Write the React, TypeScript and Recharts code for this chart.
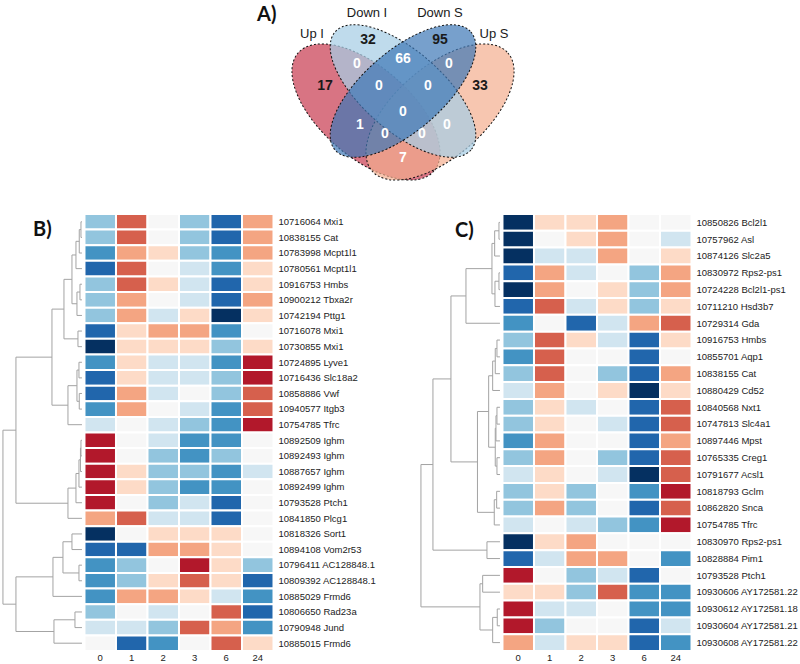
import React from "react";
import { ScatterChart, Scatter, XAxis, YAxis, ReferenceArea, ReferenceLine } from "recharts";

// time points (h) shown under both heatmaps
const timePoints = ["0", "1", "2", "3", "6", "24"];

// ---- panel A: venn ----
const vennSets = ["Up I", "Down I", "Down S", "Up S"];
// region -> count (A=Up I, B=Down I, C=Down S, D=Up S)
const vennRegions = ["A", "B", "C", "D", "AB", "BC", "CD", "ABC", "BCD", "ABCD", "AC", "BD", "ACD", "ABD", "AD"];
const vennCounts = [17, 32, 95, 33, 0, 66, 0, 0, 0, 0, 1, 0, 0, 0, 7];

// ---- panel B ----
const genesB = [
  "10716064 Mxi1", "10838155 Cat", "10783998 Mcpt1l1", "10780561 Mcpt1l1", "10916753 Hmbs",
  "10900212 Tbxa2r", "10742194 Pttg1", "10716078 Mxi1", "10730855 Mxi1", "10724895 Lyve1",
  "10716436 Slc18a2", "10858886 Vwf", "10940577 Itgb3", "10754785 Tfrc", "10892509 Ighm",
  "10892493 Ighm", "10887657 Ighm", "10892499 Ighm", "10793528 Ptch1", "10841850 Plcg1",
  "10818326 Sort1", "10894108 Vom2r53", "10796411 AC128848.1", "10809392 AC128848.1",
  "10885029 Frmd6", "10806650 Rad23a", "10790948 Jund", "10885015 Frmd6",
];
const valuesB = [
  [-2, 3, 0, -2, -4, 2], [-2, 3, 0, -2, -4, 2], [-3, 2, 1, -2, -3, 2], [-4, 3, 0, -1, -3, 1],
  [-2, 3, 1, -1, -4, 1], [-2, 2, 0, -1, -4, 2], [-2, 2, -1, 1, -5, 1], [-4, 1, 2, 2, -3, 0],
  [-5, 1, 1, 1, -2, 1], [-3, 1, -1, -1, -3, 4], [-4, 1, -1, -1, -2, 4], [-4, 2, -1, 0, -2, 3],
  [-3, 2, 0, -1, -3, 3], [-1, 0, -1, -2, -3, 4], [4, 0, -1, -3, -3, 0], [4, 0, -2, -3, -2, 0],
  [4, 1, -2, -2, -3, -1], [4, 1, -2, -3, -3, 0], [4, 0, -2, -1, -4, 0], [2, 3, -1, -1, -4, 0],
  [-5, 0, 1, 1, 1, 0], [-4, -4, 2, 2, 1, 0], [-3, -2, 0, 4, 1, -2], [-3, -2, 1, 3, 1, -4],
  [-3, 2, 2, 1, -1, -3], [-2, 0, -1, 0, 3, -4], [-1, -1, -2, 3, 2, -3], [0, -4, -3, 0, 3, 1],
];
// [left, right, height]; numbers are row indices
const treeB = [
  [
    [
      [
        [[[[0, 1, 0.1], 2, 0.27], 3, 0.6], [[4, 5, 0.2], 6, 0.5], 1.0],
        [7, 8, 0.4],
        1.8,
      ],
      [[[9, 10, 0.3], [11, 12, 0.27], 0.5], 13, 1.4],
      3.0,
    ],
    [[[[[14, 15, 0.1], 16, 0.15], 17, 0.3], 18, 0.6], 19, 1.4],
    6.6,
  ],
  [
    [[[20, 21, 1.0], [22, 23, 0.3], 1.9], 24, 2.9],
    [[25, 26, 0.7], 27, 2.8],
    6.6,
  ],
  7.9,
];

// ---- panel C ----
const genesC = [
  "10850826 Bcl2l1", "10757962 Asl", "10874126 Slc2a5", "10830972 Rps2-ps1", "10724228 Bcl2l1-ps1",
  "10711210 Hsd3b7", "10729314 Gda", "10916753 Hmbs", "10855701 Aqp1", "10838155 Cat",
  "10880429 Cd52", "10840568 Nxt1", "10747813 Slc4a1", "10897446 Mpst", "10765335 Creg1",
  "10791677 Acsl1", "10818793 Gclm", "10862820 Snca", "10754785 Tfrc", "10830970 Rps2-ps1",
  "10828884 Pim1", "10793528 Ptch1", "10930606 AY172581.22", "10930612 AY172581.18",
  "10930604 AY172581.21", "10930608 AY172581.22",
];
const valuesC = [
  [-5, 1, 1, 2, 0, 0], [-5, 0, 1, 2, 0, -1], [-5, -1, -1, 2, 0, 1], [-4, 2, -1, 0, -2, 2],
  [-5, 2, 0, 1, -2, 2], [-4, 3, -1, 1, -2, 1], [-3, 0, -4, -1, 2, 3], [-2, 3, 1, -1, -4, 1],
  [-3, 3, 0, 0, -4, 0], [-2, 3, 0, -2, -4, 2], [-1, 2, 0, 1, -5, 1], [-2, 1, -1, 0, -4, 3],
  [-2, 1, 0, -1, -4, 3], [-3, 2, 0, 0, -4, 2], [-2, 2, 0, -2, -4, 3], [-1, 1, 0, -1, -5, 3],
  [-2, 1, -2, 0, -3, 4], [-2, 2, -2, 0, -4, 3], [-1, 0, -1, -2, -3, 4], [-5, 1, 2, 0, 0, 0],
  [-4, -1, 2, 2, 0, -3], [4, 0, -2, -1, -4, 0], [1, 1, -2, 3, -3, -3], [4, -1, -1, 0, -3, -3],
  [4, -2, 0, 0, -4, -1], [2, -1, 1, 1, -4, -3],
];
const treeC = [
  [
    [
      [[[[0, 1, 0.1], 2, 0.53], [[3, 4, 0.1], 5, 0.5], 0.8], 6, 3.4],
      [
        [[[[7, 8, 0.3], 9, 0.47], 10, 0.73], [[[11, 12, 0.3], 13, 0.4], [14, 15, 0.3], 0.47], 1.13],
        [[16, 17, 0.33], 18, 0.57],
        2.25,
      ],
      4.9,
    ],
    [19, 20, 1.3],
    6.7,
  ],
  [[21, 22, 1.73], [[23, 24, 0.27], 25, 0.73], 2.0],
  7.9,
];

// RdBu, -5 .. 5
const palette = [
  "#053061", "#2166ac", "#4393c3", "#92c5de", "#d1e5f0", "#f7f7f7",
  "#fddbc7", "#f4a582", "#d6604d", "#b2182b", "#67001f",
];
const colorOf = (v: number) => palette[v + 5];

const FONT = "'Liberation Sans', Arial, sans-serif";
const GAP = 0.08; // leaf end -> first column
const K = 0.3175; // columns per height unit

type Node = number | any[];

function walk(node: Node, segs: number[][]): { x: number; y: number } {
  if (typeof node === "number") return { x: -GAP, y: node + 0.5 };
  const [l, r, h] = node as [Node, Node, number];
  const a = walk(l, segs);
  const b = walk(r, segs);
  const x = -(GAP + h * K);
  segs.push([x, a.y, x, b.y]);
  segs.push([x, a.y, a.x, a.y]);
  segs.push([x, b.y, b.x, b.y]);
  return { x, y: (a.y + b.y) / 2 };
}

// plain text ticks (no wrapping)
const RowTick = ({ x, y, payload, labels }: any) => (
  <text x={x} y={y} dy="0.35em" textAnchor="start" fontSize={9.5} fill="#222" fontFamily={FONT}>
    {labels[Math.floor(payload.value)]}
  </text>
);
const TimeTick = ({ x, y, payload }: any) => (
  <text x={x} y={y} dy="0.71em" textAnchor="middle" fontSize={9.5} fill="#222" fontFamily={FONT}>
    {timePoints[Math.floor(payload.value)]}
  </text>
);

const Heatmap = ({ genes, values, tree, width, axisWidth }: any) => {
  const n = genes.length;
  const cells: any[] = [];
  values.forEach((row: number[], r: number) =>
    row.forEach((v, c) => cells.push({ x: c + 0.5, y: r + 0.5, row: r, col: c, v }))
  );
  const segs: number[][] = [];
  walk(tree, segs);

  return (
    <ScatterChart width={width} height={464} margin={{ top: 14, right: 0, bottom: 0, left: 0 }}>
      <XAxis
        type="number"
        dataKey="x"
        domain={[-2.65, 6]}
        ticks={timePoints.map((_, i) => i + 0.5)}
        interval={0}
        axisLine={false}
        tickLine={false}
        tickSize={0}
        tickMargin={3}
        height={13}
        tick={<TimeTick />}
      />
      <YAxis
        type="number"
        dataKey="y"
        orientation="right"
        reversed
        domain={[0, n]}
        ticks={genes.map((_: string, i: number) => i + 0.5)}
        interval={0}
        axisLine={false}
        tickLine={false}
        tickSize={3}
        tickMargin={2}
        width={axisWidth}
        tick={<RowTick labels={genes} />}
      />
      {cells.map((c) => (
        <ReferenceArea
          key={`${c.row}-${c.col}`}
          x1={c.col}
          x2={c.col + 1}
          y1={c.row}
          y2={c.row + 1}
          fill={colorOf(c.v)}
          fillOpacity={1}
          stroke="#ffffff"
          strokeWidth={2}
          ifOverflow="visible"
        />
      ))}
      {segs.map((s, i) => (
        <ReferenceLine
          key={i}
          segment={[{ x: s[0], y: s[1] }, { x: s[2], y: s[3] }]}
          stroke="#a3a3a3"
          strokeWidth={1}
          ifOverflow="visible"
        />
      ))}
      <Scatter data={cells} shape={() => <g />} isAnimationActive={false} />
    </ScatterChart>
  );
};

// venn layout (units, y up)
const vennEllipses = [
  { cx: -0.37, cy: -0.12, rx: 0.9, ry: 0.45, angle: -41, fill: "#c8394f", op: 0.7 },
  { cx: 0.37, cy: -0.12, rx: 0.9, ry: 0.45, angle: 41, fill: "#f3ae8e", op: 0.7 },
  { cx: 0, cy: 0.09, rx: 0.9, ry: 0.4, angle: -41, fill: "#a6cde4", op: 0.72 },
  { cx: 0, cy: 0.09, rx: 0.9, ry: 0.4, angle: 41, fill: "#3d78b6", op: 0.7 },
];
const vennSetPos = [[-0.91, 0.67], [-0.36, 0.88], [0.37, 0.88], [0.91, 0.67]];
const vennCountPos = [
  [-0.78, 0.15], [-0.35, 0.61], [0.37, 0.61], [0.77, 0.15], [-0.46, 0.37], [0, 0.42],
  [0.46, 0.37], [-0.24, 0.15], [0.25, 0.15], [0, -0.11], [-0.43, -0.24], [0.44, -0.24],
  [-0.18, -0.33], [0.19, -0.33], [0, -0.57],
];

const Venn = () => {
  const labels = [
    ...vennSets.map((s, i) => ({ x: vennSetPos[i][0], y: vennSetPos[i][1], text: s, kind: "set" })),
    ...vennRegions.map((r, i) => ({
      x: vennCountPos[i][0],
      y: vennCountPos[i][1],
      text: String(vennCounts[i]),
      kind: r.length === 1 ? "only" : "inter",
    })),
  ];
  return (
    <ScatterChart width={260} height={200} margin={{ top: 0, right: 0, bottom: 0, left: 0 }}>
      <XAxis type="number" dataKey="x" domain={[-1.3, 1.3]} hide />
      <YAxis type="number" dataKey="y" domain={[-1, 1]} hide />
      {vennEllipses.map((e, i) => (
        <ReferenceArea
          key={i}
          x1={e.cx - e.rx}
          x2={e.cx + e.rx}
          y1={e.cy - e.ry}
          y2={e.cy + e.ry}
          ifOverflow="visible"
          shape={(p: any) => {
            const cx = p.x + p.width / 2;
            const cy = p.y + p.height / 2;
            return (
              <ellipse
                cx={cx}
                cy={cy}
                rx={p.width / 2}
                ry={p.height / 2}
                transform={`rotate(${-e.angle} ${cx} ${cy})`}
                fill={e.fill}
                fillOpacity={e.op}
                stroke="#111"
                strokeWidth={1}
                strokeDasharray="2 2"
              />
            );
          }}
        />
      ))}
      <Scatter
        data={labels}
        isAnimationActive={false}
        shape={(p: any) => {
          const d = p.payload;
          const set = d.kind === "set";
          return (
            <text
              x={p.cx}
              y={p.cy}
              textAnchor="middle"
              dominantBaseline="central"
              fontFamily={FONT}
              fontSize={set ? 13 : 14}
              fontWeight={set ? "normal" : "bold"}
              fill={d.kind === "inter" ? "#ffffff" : "#1a1a1a"}
            >
              {d.text}
            </text>
          );
        }}
      />
    </ScatterChart>
  );
};

const panelLabel: React.CSSProperties = {
  position: "absolute",
  fontFamily: "Lato, 'Open Sans', sans-serif",
  fontWeight: "bold",
  fontSize: 20,
  lineHeight: "20px",
  color: "#111",
};

export default function App() {
  return (
    <div
      style={{
        position: "absolute",
        left: 0,
        top: 0,
        width: 800,
        height: 664,
        overflow: "hidden",
        background: "#fff",
      }}
    >
      <div style={{ position: "absolute", left: 273, top: 0 }}>
        <Venn />
      </div>
      <div style={{ position: "absolute", left: 0.5, top: 200 }}>
        <Heatmap genes={genesB} values={valuesB} tree={treeB} width={397} axisWidth={124.5} />
      </div>
      <div style={{ position: "absolute", left: 418.5, top: 200 }}>
        <Heatmap genes={genesC} values={valuesC} tree={treeC} width={381.5} axisWidth={109} />
      </div>
      <div style={{ ...panelLabel, left: 257, top: 3 }}>A)</div>
      <div style={{ ...panelLabel, left: 33, top: 218 }}>B)</div>
      <div style={{ ...panelLabel, left: 455, top: 219 }}>C)</div>
    </div>
  );
}
